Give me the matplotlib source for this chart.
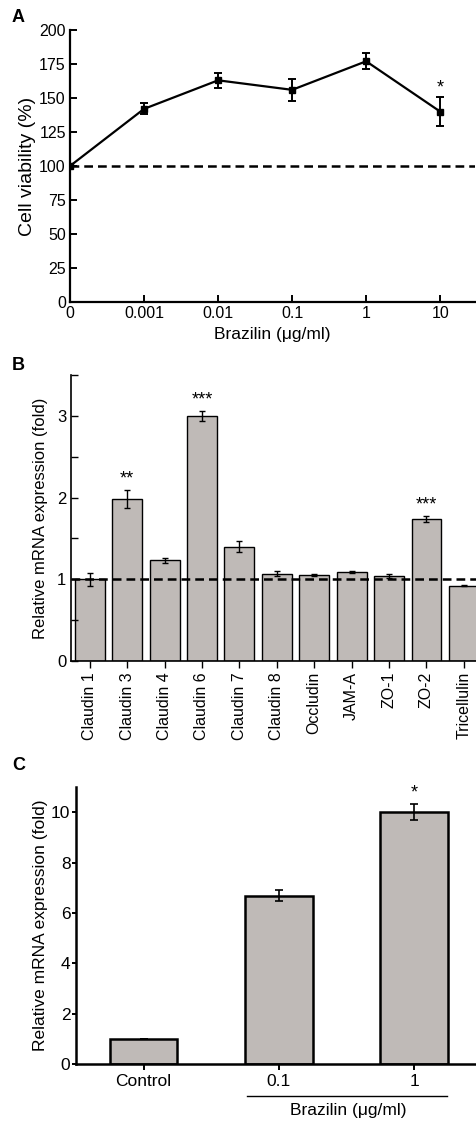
import matplotlib
matplotlib.use("Agg")
import matplotlib.pyplot as plt
import numpy as np

plt.rcParams['font.family'] = ['Liberation Sans', 'DejaVu Sans']

# Panel A data
a_labels = ["0", "0.001", "0.01", "0.1", "1", "10"]
a_values = [100, 142, 163, 156, 177, 140]
a_errors = [0, 4, 5.5, 8, 6, 10.5]

# Panel B data
b_labels = ["Claudin 1", "Claudin 3", "Claudin 4", "Claudin 6", "Claudin 7",
            "Claudin 8", "Occludin", "JAM-A", "ZO-1", "ZO-2", "Tricellulin"]
b_values = [1.0, 1.98, 1.23, 3.0, 1.40, 1.07, 1.05, 1.09, 1.04, 1.74, 0.92]
b_errors = [0.08, 0.11, 0.03, 0.06, 0.07, 0.03, 0.01, 0.01, 0.03, 0.04, 0.005]
b_stars = ["", "**", "", "***", "", "", "", "", "", "***", ""]

# Panel C data
c_labels = ["Control", "0.1", "1"]
c_values = [1.0, 6.68, 10.0]
c_errors = [0, 0.22, 0.32]
c_stars = ["", "", "*"]

W, H = 477, 1121
fig = plt.figure(figsize=(W/100, H/100), dpi=100)

bar_color = "#bfbab7"

def ax_rect(l, t, r, b):
    return [l/W, 1-b/H, (r-l)/W, (b-t)/H]

# ---------- Panel A ----------
axA = fig.add_axes(ax_rect(70, 30, 475, 302))
xA = np.arange(len(a_values))
axA.errorbar(xA, a_values, yerr=a_errors, color="black", lw=1.6, marker="s",
             ms=5, capsize=3, elinewidth=1.4, capthick=1.4)
axA.axhline(100, color="black", lw=1.8, ls=(0, (3.5, 2)))
axA.set_xlim(0, 5.47)
axA.set_ylim(0, 200)
axA.set_yticks(np.arange(0, 201, 25))
axA.set_xticks(xA)
axA.set_xticklabels(a_labels)
axA.text(5, 157, "*", ha="center", va="center", fontsize=13)
axA.set_ylabel("Cell viability (%)", fontsize=14, labelpad=2)
axA.set_xlabel("Brazilin (\u03bcg/ml)", fontsize=12.5, labelpad=4)
axA.tick_params(direction="in", length=5, width=1.4, labelsize=11.5, pad=3)
for s in ["top", "right"]:
    axA.spines[s].set_visible(False)
for s in ["left", "bottom"]:
    axA.spines[s].set_linewidth(1.6)

# ---------- Panel B ----------
axB = fig.add_axes(ax_rect(71, 375, 477, 661))
xB = np.arange(len(b_values))
axB.bar(xB, b_values, width=0.8, color=bar_color, edgecolor="black", lw=1.0,
        yerr=b_errors, capsize=2.5, error_kw=dict(elinewidth=1.0, capthick=1.0))
axB.axhline(1, color="black", lw=1.8, ls=(0, (3.5, 2)))
for x, v, e, s in zip(xB, b_values, b_errors, b_stars):
    if s:
        axB.text(x, v + e + 0.03, s, ha="center", va="bottom", fontsize=13)
axB.set_xlim(-0.5, 10.35)
axB.set_ylim(0, 3.5)
axB.set_yticks([0, 1, 2, 3])
axB.set_yticks([0.5, 1.5, 2.5, 3.5], minor=True)
axB.set_xticks(xB)
axB.set_xticklabels(b_labels, rotation=90, fontsize=11.5)
axB.set_ylabel("Relative mRNA expression (fold)", fontsize=12, labelpad=6)
axB.tick_params(axis="y", which="major", direction="in", length=5, width=1.0, labelsize=12)
axB.tick_params(axis="y", which="minor", direction="in", length=5, width=1.0)
axB.tick_params(axis="x", direction="out", length=5, width=1.0, pad=3)
for s in ["top", "right"]:
    axB.spines[s].set_visible(False)
for s in ["left", "bottom"]:
    axB.spines[s].set_linewidth(1.2)

# ---------- Panel C ----------
axC = fig.add_axes(ax_rect(76, 787, 475, 1064))
xC = np.arange(len(c_values))
axC.bar(xC, c_values, width=0.5, color=bar_color, edgecolor="black", lw=1.8,
        yerr=c_errors, capsize=3, error_kw=dict(elinewidth=1.2, capthick=1.2))
for x, v, e, s in zip(xC, c_values, c_errors, c_stars):
    if s:
        axC.text(x, v + e + 0.1, s, ha="center", va="bottom", fontsize=13)
axC.set_xlim(-0.5, 2.45)
axC.set_ylim(0, 11)
axC.set_yticks(np.arange(0, 11, 2))
axC.set_xticks(xC)
axC.set_xticklabels(c_labels)
axC.set_ylabel("Relative mRNA expression (fold)", fontsize=12.5, labelpad=2)
axC.tick_params(axis="y", direction="out", length=3, width=1.4, labelsize=12.5, pad=1)
axC.tick_params(axis="x", direction="out", length=4, width=1.4, labelsize=12.5, pad=3)
for s in ["top", "right"]:
    axC.spines[s].set_visible(False)
for s in ["left", "bottom"]:
    axC.spines[s].set_linewidth(1.8)

# bracket line and label under panel C
fig.add_artist(plt.Line2D([247/W, 447/W], [1-1096/H, 1-1096/H], color="black", lw=1.0))
fig.text(348/W, 1-1110/H, "Brazilin (\u03bcg/ml)", ha="center", va="center", fontsize=12.5)

# Panel letters
for lab, y in [("A", 17), ("B", 366), ("C", 766)]:
    fig.text(12/W, 1-y/H, lab, fontsize=13, fontweight="bold", ha="left", va="center")

fig.savefig("out.png", dpi=100)
